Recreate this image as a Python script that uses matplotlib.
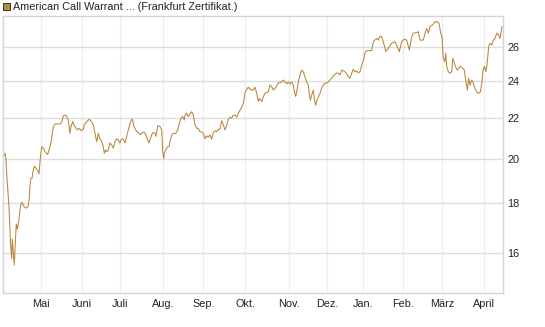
import matplotlib
matplotlib.use("Agg")
import matplotlib.pyplot as plt
from matplotlib.patches import Rectangle
from matplotlib.ticker import FixedLocator, NullLocator

# trading-day index and closing price
day = [0.4, 1.25, 1.75, 2.1, 2.6, 3.25, 4.1, 4.6, 4.9, 5.25, 5.9, 6.4, 6.9, 7.4, 7.9,
       8.6, 9.1, 9.75, 10.75, 11.75, 12.75, 13.4, 13.75, 14.25, 14.75, 15.25, 15.9,
       16.75, 17.6, 18.25, 18.9, 19.6, 20.4, 21.25, 22.1, 22.6, 23.25, 23.75, 24.25,
       24.9, 25.4, 26.25, 27.4, 28.75, 29.75, 30.4, 31.25, 32.1, 32.9, 33.75, 34.25,
       35.1, 35.75, 36.75, 37.4, 38.1, 38.75, 39.4, 40.4, 40.9, 41.75, 43.25,
       44.25, 45.4, 46.25, 47.1, 47.9, 48.75, 49.6, 50.4, 50.9, 51.6, 52.25, 52.9,
       53.75, 54.6, 55.4, 56.25, 57.1, 57.9, 58.75, 59.25, 59.9, 60.75, 61.25, 62.1,
       62.9, 63.75, 64.6, 65.1, 65.75, 66.6, 67.4, 68.25, 69.1, 69.9, 70.9, 71.75,
       72.6, 73.25, 73.9, 74.6, 75.4, 76.25, 76.75, 77.6, 78.75, 79.6, 80.1, 80.6,
       80.9, 81.6, 82.6, 83.25, 83.75, 84.6, 85.4, 86.6, 87.6, 88.4, 89.25, 90.1,
       90.9, 91.25, 92.1, 92.9, 93.75, 94.6, 95.4, 96.25, 97.1, 97.9, 98.75, 99.6,
       100.4, 101.25, 102.1, 102.9, 103.75, 104.6, 105.4, 106.25, 107.1, 107.9,
       108.75, 109.6, 110.4, 111.25, 112.1, 112.9, 113.75, 114.6, 115.4, 116.25,
       117.1, 117.9, 118.75, 119.6, 120.4, 121.25, 122.1, 122.9, 123.75, 124.6,
       125.4, 126.25, 127.1, 127.9, 128.4, 129.1, 129.6, 130.4, 131.25, 132.1,
       132.9, 133.75, 134.6, 135.4, 136.25, 137.1, 137.9, 138.75, 139.6, 140.4,
       141.25, 142.1, 142.9, 143.75, 144.6, 145.4, 145.9, 146.6, 147.1, 147.9,
       148.75, 149.6, 150.4, 151.25, 152.1, 152.9, 153.4, 153.9, 154.6, 155.4,
       155.9, 156.6, 157.25, 157.9, 158.75, 159.6, 160.4, 161.25, 162.1, 162.9,
       163.75, 164.6, 165.4, 166.25, 167.1, 167.9, 168.75, 169.6, 170.4, 171.25,
       172.1, 172.9, 173.75, 174.6, 175.4, 176.25, 177.1, 177.9, 178.75, 179.25,
       179.9, 180.6, 181.25, 182.1, 182.9, 183.75, 184.6, 185.1, 185.75, 186.6,
       187.25, 187.9, 188.6, 189.25, 189.9, 190.6, 191.25, 191.75, 192.9, 194.6,
       196.25, 197.1, 198.4, 199.6, 200.75, 202.1, 203.4, 204.6, 205.4, 207.1,
       207.9, 208.75, 210.4, 211.25, 212.1, 212.9, 213.75, 215.1, 216.25, 217.4,
       218.25, 219.1, 219.75, 220.4, 221.1, 221.6, 222.1, 222.9, 223.75, 224.6,
       225.1, 225.75, 226.4, 227.4, 228.75, 230.1, 230.9, 231.75, 232.4, 233.1,
       233.75, 234.6, 235.4, 236.25, 237.1, 237.9, 238.75, 239.4, 239.9, 240.25,
       240.9, 241.75, 242.4, 243.1, 243.75, 244.6, 245.4, 246.25, 247.1, 248.1,
       248.75, 249.75]

price = [20.1, 20.25, 20.0, 19.3, 18.65, 17.85, 16.25, 15.8, 16.55, 16.2, 15.57, 16.4,
         17.15, 16.95, 17.15, 17.6, 17.93, 18.05, 17.86, 17.8, 17.86, 18.2, 18.8, 19.1,
         19.1, 19.4, 19.65, 19.55, 19.45, 19.3, 20.0, 20.57, 20.5, 20.33, 20.25, 20.2,
         20.4, 20.57, 20.77, 21.2, 21.55, 21.7, 21.7, 21.7, 21.82, 22.11, 22.16, 22.08,
         21.9, 21.22, 21.57, 21.82, 21.65, 21.48, 21.39, 21.48, 21.43, 21.36, 21.43,
         21.65, 21.77, 21.94,
         21.85, 21.65, 21.22, 20.81, 21.22, 20.96, 20.81, 20.57, 20.25, 20.41, 20.33,
         20.41, 20.75, 20.65, 20.5, 20.81, 20.96, 20.89, 20.75, 20.89, 20.96, 20.89,
         20.76, 21.07, 21.39, 21.73, 21.94, 21.9, 21.57, 21.39, 21.3, 21.22, 21.15,
         21.28, 21.28, 21.15, 20.89, 20.75, 20.96, 21.15, 21.28, 21.22, 21.07, 21.6,
         21.57, 21.39, 20.33, 20.0, 20.25, 20.41, 20.57, 20.57, 20.81, 21.15, 21.22,
         21.22, 21.39, 21.73, 21.99, 22.08, 21.9, 22.16, 22.25, 22.08, 22.21, 22.33,
         22.16, 21.65, 21.48, 21.48, 21.3, 21.3, 21.22, 20.96, 21.1, 21.03, 21.15,
         20.93, 21.26, 21.35, 21.3, 21.43, 21.43, 21.87, 21.65, 21.39, 21.65, 21.94,
         22.04, 21.99, 22.16, 22.16, 22.04, 22.25, 22.42, 22.57, 22.78, 23.33, 23.54,
         23.66, 23.54, 23.5, 23.5, 23.66, 23.33, 22.87, 23.04, 22.95, 22.87, 23.13,
         23.33, 23.36, 23.41, 23.78, 23.68, 23.5, 23.59, 23.72, 23.9, 23.9, 23.95,
         24.06, 23.95, 23.85, 23.95, 23.84, 23.95, 23.78, 23.41, 23.15, 23.41, 23.95,
         24.35, 24.63, 24.53, 24.25, 23.95, 23.78, 23.32, 22.95, 23.22, 23.5, 23.04,
         22.68, 22.95, 23.13, 23.32, 23.6, 23.78, 23.88, 23.88, 23.95, 24.06, 24.16,
         24.29, 24.4, 24.45, 24.45, 24.35, 24.63, 24.59, 24.53, 24.4, 24.25, 24.16,
         24.45, 24.67, 24.53, 24.59, 24.47, 24.53, 24.73, 25.02, 25.26, 25.65, 25.78,
         25.78, 25.78, 25.78, 26.12, 26.39, 26.47, 26.53, 26.43, 26.64, 26.68, 26.53,
         26.23, 25.92, 25.72, 25.92, 26.23, 26.33, 26.12, 25.72, 26.33, 26.48, 26.43,
         25.82, 26.64, 26.86, 26.9, 26.96, 26.43, 26.43, 26.86, 27.17, 26.86, 27.29,
         27.4, 27.6, 27.6, 27.5, 26.86, 26.64, 25.32, 25.12, 25.62, 24.85, 24.53,
         24.45, 24.53, 25.32, 25.12, 24.85, 24.63, 24.85, 24.75, 24.63, 23.95, 23.5,
         24.16, 23.78, 24.06, 23.88, 23.58, 23.41, 23.32, 23.36, 23.68, 24.16, 24.63,
         24.85, 24.53, 25.12, 26.02, 26.23, 26.12, 26.43, 26.53, 26.86, 26.75, 26.53,
         27.29]

month_pos = [19.4, 39.6, 58.6, 80.4, 100.4, 121.4, 143.4, 162.4, 180.4, 200.4, 219.75, 240.6]
month_names = ["Mai", "Juni", "Juli", "Aug.", "Sep.", "Okt.", "Nov.", "Dez.",
               "Jan.", "Feb.", "März", "April"]
price_ticks = [16, 18, 20, 22, 24, 26]

line_color = "#b8863b"

plt.rcParams["font.family"] = ["Liberation Sans", "DejaVu Sans"]
fig = plt.figure(figsize=(5.45, 3.27), dpi=100)
ax = fig.add_axes([2.5 / 545, 1 - 293.3 / 327, 500.8 / 545, 277.3 / 327])

ax.plot(day, price, color=line_color, lw=0.75)
ax.set_yscale("log")
ax.set_ylim(14.57, 27.97)
ax.set_xlim(0, 250.4)

ax.yaxis.set_major_locator(FixedLocator(price_ticks))
ax.yaxis.set_minor_locator(NullLocator())
ax.set_yticklabels([str(t) for t in price_ticks])
ax.yaxis.tick_right()
ax.set_xticks(month_pos)
ax.set_xticklabels(month_names)
ax.tick_params(axis="both", length=0, labelsize=7.8, colors="#222222")
ax.tick_params(axis="x", pad=4)
ax.tick_params(axis="y", pad=3)

ax.grid(axis="y", color="#dddddd", lw=1)
ax.grid(axis="x", color="#eeeeee", lw=1)
ax.set_axisbelow(True)
for s in ax.spines.values():
    s.set_color("#d4d4d4")
    s.set_linewidth(1)

fig.patches.append(Rectangle((3 / 545, 1 - 9.5 / 327), 6.5 / 545, 6.5 / 327,
                             transform=fig.transFigure, facecolor="#b58a52",
                             edgecolor="#4a3418", lw=0.7))
fig.text(13 / 545, 1 - 6.5 / 327, "American Call Warrant ... (Frankfurt Zertifikat.)",
         fontsize=7.8, color="#222222", va="center", ha="left")

fig.savefig("out.png", dpi=100)
